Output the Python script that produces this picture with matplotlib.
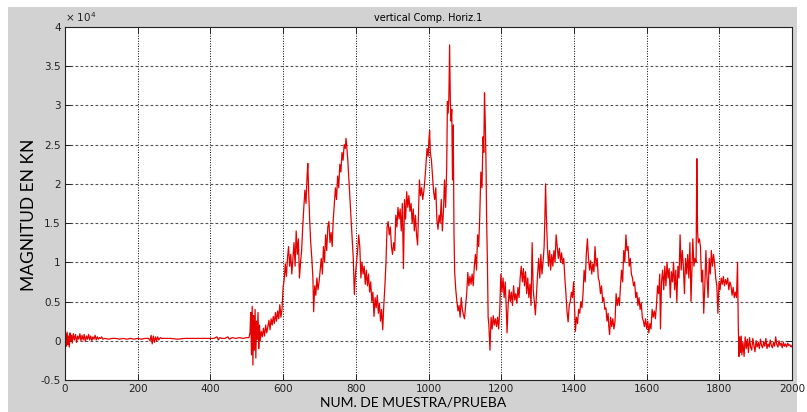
import numpy as np
import matplotlib
matplotlib.use("Agg")
import matplotlib.pyplot as plt
from matplotlib.patches import Rectangle
from matplotlib.ticker import FuncFormatter

# Valores (magnitud en unidades de 1e4 kN)
muestra_reposo = [0, 2, 4, 6, 8, 10, 12, 14, 16, 18, 20, 23, 26, 29, 32, 35, 38, 41, 44, 47, 50, 53, 56, 59,
                  62, 65, 68, 71, 74, 77, 80, 83, 86, 89, 92, 95, 98, 101, 104,
                  110, 120, 130, 140, 150, 160, 170, 180, 190, 200, 210, 220, 230, 234, 237, 240, 243, 246,
                  249, 252, 255, 258, 262, 266, 275, 290, 310, 330, 350, 370, 390, 410, 418, 422, 426, 432,
                  440, 448, 452, 460, 470, 480, 490, 500, 506]
mag_reposo = [0.02, 0.09, -0.07, 0.11, -0.05, 0.06, -0.08, 0.10, 0.00, 0.07, -0.03, 0.09, 0.01, 0.08, -0.02,
              0.06, 0.02, 0.09, 0.00, 0.07, 0.01, 0.08, -0.01, 0.06, 0.02, 0.08, 0.01, 0.06, 0.00, 0.05, 0.02,
              0.07, 0.01, 0.05, 0.02, 0.04, 0.03, 0.05, 0.02,
              0.03, 0.02, 0.03, 0.03, 0.02, 0.03, 0.02, 0.03, 0.02, 0.03, 0.02, 0.03, 0.03, 0.00, 0.07, -0.04,
              0.06, -0.02, 0.05, 0.00, 0.05, 0.01, 0.04, 0.03, 0.03, 0.03, 0.02, 0.03, 0.03, 0.03, 0.03, 0.03,
              0.05, 0.01, 0.04, 0.03, 0.03, 0.05, 0.02, 0.04, 0.03, 0.04, 0.03, 0.04, 0.04]

muestra_carga1 = [509, 511, 513, 515, 517, 519, 521, 523, 525, 527, 529, 531, 533, 535, 537, 540, 543, 546,
                  549, 552, 555, 558, 561, 564, 567, 570, 573, 576, 579, 582, 585, 588, 591, 594, 597, 600,
                  603, 606, 609, 612, 615, 618, 621, 624, 627, 630, 633, 636, 639, 642, 645, 648, 651, 654,
                  657, 660, 663, 666, 668, 670, 673, 676, 679, 682, 684, 687, 690, 693, 696, 699,
                  702, 705, 708, 711, 714, 717, 720, 723, 726, 729, 732, 735, 738, 741, 744, 747, 750, 753,
                  756, 759, 762, 765, 768, 771, 773, 775, 778, 781, 784, 787, 790, 793, 796, 799,
                  802, 805, 808, 811, 814, 817, 820, 823, 826, 829, 832, 835, 838, 841, 844, 847, 850, 853,
                  856, 859, 862, 865, 868, 871, 874, 877, 880, 883, 886, 889, 892, 895, 898]
mag_carga1 = [0.10, 0.36, -0.18, 0.44, -0.31, 0.32, -0.12, 0.40, -0.22, 0.25, 0.02, 0.36, -0.10, 0.20, 0.00,
              0.12, 0.05, 0.16, 0.06, 0.20, 0.10, 0.18, 0.26, 0.14, 0.28, 0.20, 0.31, 0.22, 0.36, 0.25, 0.38,
              0.28, 0.46, 0.30, 0.40, 0.68,
              0.78, 0.98, 0.82, 1.05, 1.20, 0.95, 1.10, 0.85, 1.05, 1.25, 0.95, 1.40, 1.10, 1.30, 0.80, 1.00,
              1.15, 1.45, 1.70, 1.92, 1.75, 2.10, 2.26, 1.95, 1.55, 1.25, 1.05, 0.80, 0.37, 0.70, 0.58, 0.80,
              0.65, 0.75,
              0.90, 1.05, 0.85, 1.20, 1.00, 1.35, 1.15, 1.45, 1.52, 1.25, 1.38, 1.20, 1.55, 1.75, 1.95, 1.80,
              2.10, 1.95, 2.25, 2.15, 2.40, 2.30, 2.50, 2.45, 2.58, 2.48, 2.30, 2.05, 1.80, 1.55, 1.30, 1.05,
              0.59, 0.85,
              1.00, 1.15, 1.35, 1.20, 0.80, 1.00, 0.85, 0.95, 0.72, 0.90, 0.70, 0.85, 0.62, 0.75, 0.50, 0.62,
              0.31, 0.55, 0.42, 0.58, 0.35, 0.48, 0.25, 0.40, 0.14, 0.45, 0.70, 1.00, 1.45, 1.52, 1.35, 1.45,
              1.20]

muestra_carga2 = [901, 904, 907, 910, 913, 916, 919, 922, 925, 928, 931, 934, 937, 940, 943, 946, 949, 952,
                  955, 958, 961, 964, 967, 970, 973, 975, 978, 981, 984, 987, 990, 993, 996, 999,
                  1001, 1003, 1005, 1008, 1011, 1014, 1017, 1020, 1023, 1026, 1029, 1032, 1035, 1038, 1041,
                  1044, 1047, 1050, 1052, 1054, 1056, 1058, 1060, 1062, 1064, 1066, 1068, 1070, 1072, 1075,
                  1078, 1081, 1084, 1087, 1090, 1093, 1096, 1099,
                  1102, 1105, 1108, 1111, 1114, 1117, 1120, 1123, 1126, 1129, 1132, 1135, 1138, 1141, 1144,
                  1147, 1150, 1152, 1154, 1156, 1158, 1160, 1162, 1164, 1166, 1169, 1172, 1175, 1178, 1181,
                  1184, 1187, 1190, 1193, 1196, 1199]
mag_carga2 = [1.10, 1.25, 1.15, 1.60, 1.45, 1.70, 1.55, 1.68, 1.40, 1.75, 0.92, 1.80, 1.55, 1.90, 1.70, 1.85,
              1.65, 1.75, 1.50, 1.68, 1.40, 1.60, 1.35, 1.22, 1.70, 2.05, 1.85, 1.95, 1.80, 1.90, 2.05, 2.25,
              2.45, 2.35,
              2.55, 2.68, 2.40, 2.30, 2.10, 1.90, 1.80, 1.95, 1.55, 1.42, 1.60, 1.50, 1.80, 1.40, 1.65, 2.05,
              1.70, 2.20, 3.05, 2.90, 3.10, 3.77, 3.05, 2.80, 2.95, 2.05, 2.75, 1.40, 0.87, 0.65, 0.50, 0.38,
              0.45, 0.30, 0.55, 0.40, 0.33, 0.28,
              0.45, 0.60, 0.87, 0.70, 0.82, 0.72, 0.85, 0.70, 0.95, 1.10, 0.90, 1.35, 1.20, 1.60, 2.15, 1.95,
              2.60, 2.40, 3.16, 2.80, 2.30, 1.50, 1.00, 0.30, 0.20, -0.12, 0.30, 0.15, 0.32, 0.20, 0.28, 0.18,
              0.30, 0.15, 0.40, 0.85]

muestra_carga3 = [1202, 1205, 1208, 1211, 1214, 1216, 1219, 1222, 1225, 1228, 1231, 1234, 1237, 1240, 1243,
                  1246, 1249, 1252, 1255, 1258, 1261, 1264, 1267, 1270, 1273, 1276, 1279, 1282, 1285, 1288,
                  1291, 1294, 1297,
                  1300, 1303, 1306, 1309, 1312, 1315, 1318, 1320, 1322, 1324, 1327, 1330, 1333, 1336, 1339,
                  1342, 1345, 1348, 1351, 1354, 1357, 1360, 1363, 1366, 1369, 1372, 1375, 1378, 1381, 1384,
                  1387, 1390, 1393, 1396, 1399,
                  1402, 1404, 1407, 1410, 1413, 1416, 1419, 1422, 1425, 1428, 1431, 1434, 1437, 1440, 1443,
                  1446, 1449, 1452, 1455, 1458, 1461, 1464, 1467, 1470, 1473, 1476, 1479, 1482, 1485, 1488,
                  1491, 1494, 1496, 1498, 1501]
mag_carga3 = [0.62, 0.80, 0.55, 0.75, 0.40, 0.10, 0.45, 0.65, 0.50, 0.62, 0.45, 0.70, 0.52, 0.60, 0.48, 0.68,
              0.55, 0.80, 0.95, 0.75, 0.92, 0.70, 0.88, 0.60, 0.80, 0.55, 0.72, 0.45, 1.25, 0.65, 0.50, 0.33,
              0.60,
              0.85, 1.05, 0.80, 1.10, 0.85, 1.00, 1.20, 1.55, 2.00, 1.60, 1.20, 0.95, 1.15, 0.90, 1.10, 0.95,
              1.15, 1.00, 1.35, 1.20, 1.05, 1.18, 1.00, 1.12, 0.98, 1.05, 0.80, 0.60, 0.37, 0.24, 0.45, 0.50,
              0.62, 0.55, 0.75,
              0.40, 0.12, 0.30, 0.22, 0.40, 0.35, 0.50, 0.42, 0.60, 0.90, 0.75, 1.10, 1.30, 1.05, 0.90, 1.02,
              0.85, 0.98, 0.88, 1.20, 0.95, 1.05, 0.80, 0.75, 0.60, 0.70, 0.50, 0.55, 0.40, 0.42, 0.25, 0.35,
              0.18, 0.08, 0.30]

muestra_carga4 = [1504, 1507, 1510, 1513, 1516, 1519, 1522, 1525, 1528, 1531, 1534, 1537, 1540, 1543, 1546,
                  1549, 1552, 1555, 1558, 1561, 1564, 1567, 1570, 1573, 1576, 1579, 1582, 1585, 1588, 1591,
                  1594, 1597, 1600,
                  1603, 1606, 1609, 1612, 1615, 1618, 1621, 1624, 1627, 1630, 1633, 1636, 1638, 1641, 1644,
                  1647, 1650, 1653, 1656, 1659, 1662, 1665, 1668, 1671, 1674, 1677, 1680, 1683, 1686, 1689,
                  1692, 1695, 1698,
                  1701, 1704, 1707, 1710, 1713, 1716, 1719, 1722, 1725, 1727, 1730, 1733, 1736, 1738, 1740,
                  1742, 1745, 1748, 1751, 1754, 1757, 1760, 1763, 1766, 1769, 1772, 1775, 1778, 1781, 1784,
                  1787, 1790, 1793, 1796, 1799, 1802, 1805, 1808, 1811, 1814, 1817, 1820, 1823, 1826, 1829,
                  1832, 1835, 1838, 1841, 1844, 1847, 1850]
mag_carga4 = [0.18, 0.28, 0.15, 0.25, 0.60, 0.45, 0.55, 0.45, 0.70, 0.90, 0.75, 1.15, 1.00, 1.35, 1.15, 1.20,
              0.95, 1.05, 0.85, 0.80, 0.70, 0.75, 0.55, 0.62, 0.45, 0.55, 0.40, 0.48, 0.30, 0.25, 0.18, 0.28,
              0.15,
              0.25, 0.10, 0.22, 0.15, 0.40, 0.30, 0.38, 0.28, 0.45, 0.70, 0.60, 0.85, 0.15, 0.75, 0.90, 0.65,
              0.95, 0.70, 1.00, 0.80, 0.92, 0.55, 0.88, 0.75, 1.00, 0.65, 0.90, 0.50, 0.95, 0.80, 1.35, 0.90,
              1.15,
              0.95, 0.60, 1.05, 0.85, 1.10, 0.80, 1.25, 0.50, 1.00, 1.30, 0.95, 1.05, 1.00, 2.32, 1.40, 1.25,
              1.30, 1.20, 0.75, 0.90, 0.35, 0.70, 1.15, 0.80, 0.55, 1.05, 0.85, 1.15, 0.95, 1.10, 0.98, 0.80,
              0.70, 0.35, 0.75, 0.65, 0.80, 0.72, 0.82, 0.70, 0.78, 0.72, 0.80, 0.65, 0.75, 0.70, 0.58, 0.68,
              0.55, 0.62, 0.55, 1.00]

muestra_descarga = [1852, 1854, 1856, 1858, 1860, 1862, 1865, 1868, 1871, 1874, 1877, 1880, 1883, 1886, 1889,
                    1892, 1895, 1898, 1901, 1904, 1907, 1910, 1913, 1916, 1919, 1922, 1925, 1928, 1931, 1934,
                    1937, 1940, 1943, 1946, 1949, 1952, 1955, 1958, 1961, 1964, 1967, 1970, 1973, 1976, 1979,
                    1982, 1985, 1988, 1991, 1994, 1997, 2000]
mag_descarga = [0.20, -0.20, 0.05, -0.15, 0.06, -0.18, -0.02, -0.20, 0.05, -0.10, 0.02, -0.15, 0.04, -0.08,
                -0.12, 0.03, -0.06, -0.14, 0.00, -0.08, -0.02, -0.10, 0.02, -0.06, -0.09, -0.01, -0.07, 0.03,
                -0.10, -0.04, -0.08, 0.01, -0.06, -0.09, -0.02, -0.07, 0.05, -0.05, -0.08, 0.00, -0.06, -0.03,
                -0.09, -0.02, -0.07, -0.04, -0.08, -0.03, -0.06, -0.05, -0.08, -0.06]

x_ticks = np.arange(0, 2001, 200)
y_ticks = np.arange(-0.5, 4.01, 0.5)

muestra = np.concatenate([muestra_reposo, muestra_carga1, muestra_carga2,
                          muestra_carga3, muestra_carga4, muestra_descarga])
magnitud = np.concatenate([mag_reposo, mag_carga1, mag_carga2,
                           mag_carga3, mag_carga4, mag_descarga])

fig = plt.figure(figsize=(8.07, 4.12), dpi=100)
fig.patch.set_facecolor("white")
# fondo gris tipo ventana de MATLAB
fig.add_artist(Rectangle((0.0099, 0.0), 0.978, 0.983, transform=fig.transFigure,
                         facecolor="#d2d2d2", edgecolor="none", zorder=0))

ax = fig.add_axes([0.0805, 0.0777, 0.901, 0.857])
ax.set_facecolor("white")
ax.plot(muestra, magnitud, color="#e60000", lw=0.9)

ax.set_xlim(0, 2000)
ax.set_ylim(-0.5, 4)
ax.set_xticks(x_ticks)
ax.set_yticks(y_ticks)
ax.yaxis.set_major_formatter(FuncFormatter(lambda v, p: "%g" % v))

for xv in x_ticks[1:-1]:
    ax.axvline(xv, color="black", lw=0.7, ls=(0, (1, 1.6)), zorder=1)
for yv in y_ticks[1:-1]:
    ax.axhline(yv, color="#555555", lw=0.8, ls=(0, (2.5, 2)), zorder=1)

ax.tick_params(direction="in", length=4, width=0.7, labelsize=7.5, colors="#222222",
               top=True, right=True, pad=3)
for s in ax.spines.values():
    s.set_linewidth(0.8)
    s.set_color("#222222")

ax.set_title("vertical Comp. Horiz.1", fontsize=7, pad=4)
ax.text(0.0, 1.008, "× 10$^4$", transform=ax.transAxes, fontsize=7.5, ha="left", va="bottom",
        color="#222222")
ax.set_xlabel("NUM. DE MUESTRA/PRUEBA", fontsize=10, family="Lato")
ax.set_ylabel("MAGNITUD EN KN", fontsize=12.5, family="Lato")
ax.xaxis.set_label_coords(0.479, -0.048)
ax.yaxis.set_label_coords(-0.039, 0.467)

fig.savefig("out.png", dpi=100)
